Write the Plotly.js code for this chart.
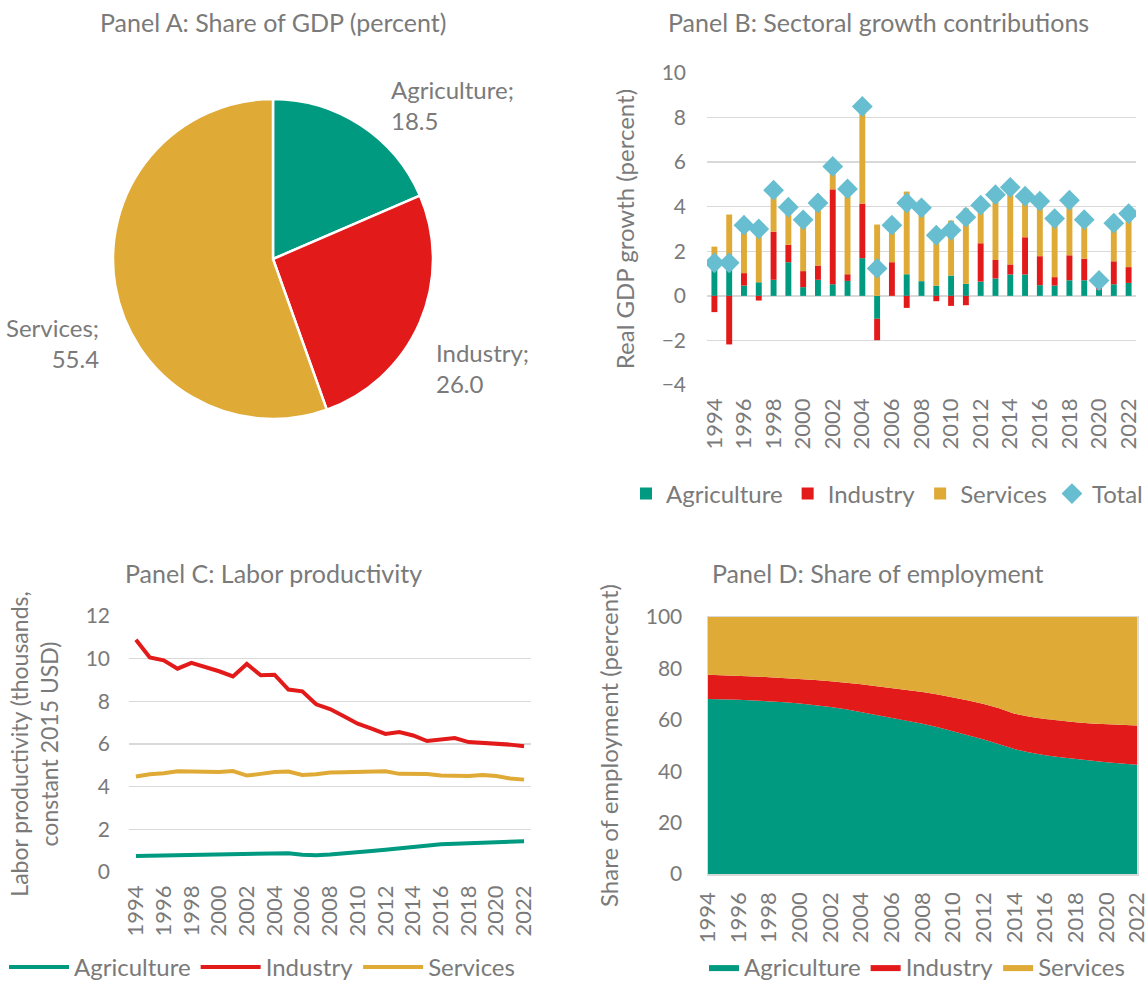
<!DOCTYPE html>
<html><head><meta charset="utf-8">
<script src="https://cdn.plot.ly/plotly-3.0.1.min.js"></script>
<style>html,body{margin:0;padding:0;background:#fff}#chart{width:1148px;height:992px}</style>
</head><body><div id="chart"></div>
<script>
// ---------- data ----------
const sectors = ["Agriculture", "Industry", "Services"];
const gdpShare = [18.5, 26.0, 55.4];

const years = [1994,1995,1996,1997,1998,1999,2000,2001,2002,2003,2004,2005,2006,2007,2008,
               2009,2010,2011,2012,2013,2014,2015,2016,2017,2018,2019,2020,2021,2022];

// Panel B: contributions to real GDP growth (pp)
const contribAgri = [1.25,1.2,0.46,0.61,0.72,1.51,0.39,0.72,0.52,0.67,1.69,-1.03,0,0.97,0.66,
                     0.46,0.91,0.54,0.64,0.78,0.96,0.96,0.48,0.46,0.7,0.7,0.28,0.52,0.58];
const contribInd  = [-0.73,-2.18,0.56,-0.21,2.16,0.78,0.72,0.64,4.26,0.3,2.45,-0.96,1.51,-0.54,0,
                     -0.24,-0.45,-0.42,1.72,0.83,0.45,1.67,1.3,0.38,1.12,0.97,0.08,1.03,0.71];
const contribServ = [0.96,2.45,2.15,2.6,1.86,1.69,2.3,2.81,1.03,3.83,4.36,3.2,1.66,3.71,3.29,
                     2.5,2.47,3.38,1.71,2.93,3.46,1.84,2.47,2.63,2.47,1.75,0.33,1.71,2.4];
const growthTotal = [1.48,1.48,3.17,3.0,4.74,3.98,3.41,4.17,5.81,4.8,8.5,1.23,3.17,4.17,3.95,
                     2.72,2.94,3.53,4.07,4.54,4.87,4.47,4.25,3.47,4.29,3.42,0.69,3.26,3.69];

// Panel C: labor productivity (thousands, constant 2015 USD)
const prodAgri = [0.75,0.76,0.77,0.77,0.78,0.80,0.81,0.82,0.82,0.83,0.84,0.88,0.81,0.79,0.82,
                  0.86,0.92,0.98,1.04,1.10,1.18,1.26,1.30,1.33,1.35,1.37,1.41,1.43,1.44];
const prodInd  = [10.89,10.06,9.92,9.53,9.80,9.62,9.41,9.17,9.75,9.22,9.25,8.55,8.47,7.86,7.64,
                  7.30,6.95,6.72,6.47,6.56,6.40,6.14,6.23,6.28,6.09,6.05,6.05,5.97,5.89];
const prodServ = [4.48,4.58,4.63,4.72,4.71,4.68,4.69,4.73,4.52,4.60,4.69,4.71,4.55,4.58,4.66,
                  4.68,4.70,4.71,4.72,4.60,4.58,4.59,4.52,4.50,4.50,4.55,4.50,4.38,4.33];

// Panel D: share of employment (percent)
const empAgri = [68.1,68.0,67.8,67.5,67.2,66.8,66.3,65.7,65.0,64.1,63.0,61.9,60.8,59.7,58.5,
                 57.1,55.6,54.0,52.3,50.5,48.6,47.3,46.2,45.4,44.7,44.1,43.5,43.0,42.5];
const empInd  = [9.4,9.35,9.3,9.35,9.4,9.5,9.6,9.8,10.0,10.4,10.8,11.2,11.6,12.0,12.3,
                 12.7,13.1,13.5,13.8,14.0,13.8,13.9,14.1,14.2,14.3,14.5,14.8,15.0,15.3];
const empServ = [22.5,22.65,22.9,23.15,23.4,23.7,24.1,24.5,25.0,25.5,26.2,26.9,27.6,28.3,29.2,
                 30.2,31.3,32.5,33.9,35.5,37.6,38.8,39.7,40.4,41.0,41.4,41.7,42.0,42.2];

// ---------- style ----------
const C_AGR = "#009A80", C_IND = "#E31A1A", C_SER = "#DFAA36", C_TOT = "#67BED0";
const FONT = "Lato, 'Open Sans', sans-serif";
const GRAY = "#7a7a7a", GRID = "#d9d9d9";
const W = 1148, H = 992;
const px = v => v / W, py = v => 1 - v / H;

const traces = [
  {type:"pie", labels:sectors, values:gdpShare, sort:false, direction:"clockwise", rotation:0,
   marker:{colors:[C_AGR,C_IND,C_SER], line:{color:"#fff", width:2.5}},
   textinfo:"none", hoverinfo:"label+value", showlegend:false,
   domain:{x:[px(112), px(434)], y:[py(419), py(99)]}},

  {type:"bar", x:years, y:contribAgri, name:"Agriculture", marker:{color:C_AGR}, xaxis:"x", yaxis:"y", legend:"legend"},
  {type:"bar", x:years, y:contribInd, name:"Industry", marker:{color:C_IND}, xaxis:"x", yaxis:"y", legend:"legend"},
  {type:"bar", x:years, y:contribServ, name:"Services", marker:{color:C_SER}, xaxis:"x", yaxis:"y", legend:"legend"},
  {type:"scatter", mode:"markers", x:years, y:growthTotal, name:"Total",
   marker:{symbol:"diamond", size:16, color:C_TOT}, xaxis:"x", yaxis:"y", legend:"legend"},

  {type:"scatter", mode:"lines", x:years, y:prodAgri, name:"Agriculture", line:{color:C_AGR, width:4}, xaxis:"x2", yaxis:"y2", legend:"legend2"},
  {type:"scatter", mode:"lines", x:years, y:prodInd, name:"Industry", line:{color:C_IND, width:4}, xaxis:"x2", yaxis:"y2", legend:"legend2"},
  {type:"scatter", mode:"lines", x:years, y:prodServ, name:"Services", line:{color:C_SER, width:4}, xaxis:"x2", yaxis:"y2", legend:"legend2"},

  {type:"scatter", mode:"lines", x:years, y:empAgri, name:"Agriculture", stackgroup:"emp", fillcolor:C_AGR, line:{width:0, color:C_AGR}, xaxis:"x3", yaxis:"y3", legend:"legend3"},
  {type:"scatter", mode:"lines", x:years, y:empInd, name:"Industry", stackgroup:"emp", fillcolor:C_IND, line:{width:0, color:C_IND}, xaxis:"x3", yaxis:"y3", legend:"legend3"},
  {type:"scatter", mode:"lines", x:years, y:empServ, name:"Services", stackgroup:"emp", fillcolor:C_SER, line:{width:0, color:C_SER}, xaxis:"x3", yaxis:"y3", legend:"legend3"}
];

const xTickF = {family:FONT, size:22, color:GRAY};
const yTickF = {family:FONT, size:21, color:GRAY};
const titleF = {family:FONT, size:25, color:GRAY};
const axTitleF = {family:FONT, size:24, color:GRAY};
const pieF = {family:FONT, size:24, color:GRAY};
const legF = {family:FONT, size:24, color:GRAY};
const xCommon = {tickmode:"linear", tick0:1994, dtick:2, tickangle:-90, showgrid:false, zeroline:false,
                 tickfont:xTickF, ticks:"", ticklabelstandoff:8, fixedrange:true, automargin:false,
                 ticklabeloverflow:"allow"};
const yCommon = {gridcolor:GRID, gridwidth:1.5, zeroline:false, tickfont:yTickF, ticks:"", fixedrange:true, automargin:false};

const pieLabelText = i => sectors[i] + ";<br>" + gdpShare[i].toFixed(1);

const ann = (text, x, y, xanchor, font, extra) => Object.assign({text, x:px(x), y:py(y), xref:"paper", yref:"paper",
  xanchor, yanchor:"middle", showarrow:false, font:font}, extra || {});

const layout = {
  width:W, height:H, margin:{l:0, r:0, t:0, b:0},
  paper_bgcolor:"#fff", plot_bgcolor:"#fff",
  font:{family:FONT, color:GRAY},
  barmode:"relative", bargap:0.6,
  xaxis:Object.assign({}, xCommon, {domain:[px(707), px(1136)], anchor:"y", range:[1993.5, 2022.5]}),
  yaxis:Object.assign({}, yCommon, {domain:[py(385), py(73)], anchor:"x", range:[-4, 10], dtick:2,
        zeroline:true, zerolinecolor:GRID, zerolinewidth:1.5, ticklabelstandoff:20,
        title:{text:"Real GDP growth (percent)", font:axTitleF, standoff:20}}),
  xaxis2:Object.assign({}, xCommon, {domain:[px(129), px(531)], anchor:"y2", range:[1993.5, 2022.5]}),
  yaxis2:Object.assign({}, yCommon, {domain:[py(872), py(616)], anchor:"x2", range:[0, 12], dtick:2,
        ticklabelstandoff:18, title:{text:"Labor productivity (thousands,<br>constant 2015 USD)", font:{family:FONT, size:23, color:GRAY}, standoff:20}}),
  xaxis3:Object.assign({}, xCommon, {domain:[px(708), px(1137)], anchor:"y3", range:[1994, 2022],
        showline:true, mirror:true, linecolor:GRID, linewidth:1.5}),
  yaxis3:Object.assign({}, yCommon, {domain:[py(874), py(617)], anchor:"x3", range:[0, 100], dtick:20,
        showline:true, mirror:true, linecolor:GRID, linewidth:1.5, ticklabelstandoff:20,
        title:{text:"Share of employment (percent)", font:axTitleF, standoff:20}}),
  legend:{orientation:"h", x:1, xanchor:"right", y:py(494), yanchor:"middle",
          font:legF, traceorder:"normal", itemwidth:30, bgcolor:"rgba(0,0,0,0)"},
  legend2:{orientation:"h", x:px(4), xanchor:"left", y:py(990), yanchor:"bottom",
          font:legF, traceorder:"normal", itemwidth:60, bgcolor:"rgba(0,0,0,0)"},
  legend3:{orientation:"h", x:px(704), xanchor:"left", y:py(990), yanchor:"bottom",
          font:legF, traceorder:"normal", itemwidth:30, bgcolor:"rgba(0,0,0,0)"},
  annotations:[
    ann("Panel A: Share of GDP (percent)", 273, 22, "center", titleF),
    ann("Panel B: Sectoral growth contributions", 878, 22, "center", titleF),
    ann("Panel C: Labor productivity", 273, 573, "center", titleF),
    ann("Panel D: Share of employment", 878, 573, "center", titleF),
    ann(pieLabelText(0), 389, 105, "left", pieF, {align:"left"}),
    ann(pieLabelText(1), 434, 368, "left", pieF, {align:"left"}),
    ann(pieLabelText(2), 101, 343, "right", pieF, {align:"right"})
  ]
};

Plotly.newPlot("chart", traces, layout, {displayModeBar:false, staticPlot:true});
</script>
</body></html>
